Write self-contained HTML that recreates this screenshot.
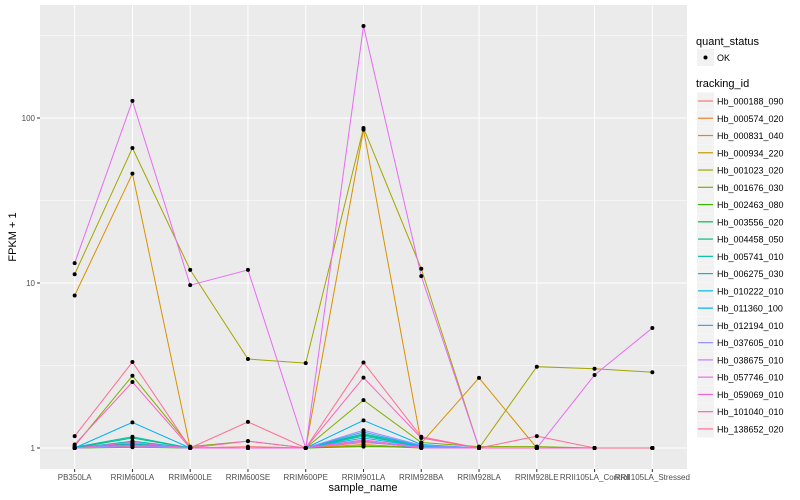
<!DOCTYPE html>
<html><head><meta charset="utf-8"><style>
body{margin:0;background:#fff;}
svg{display:block;font-family:"Liberation Sans",sans-serif;}
</style></head><body>
<svg id="chart" width="800" height="500">
<rect x="40" y="5" width="647" height="464" fill="#EBEBEB"/>
<g id="grid"></g><g id="series"></g><g id="axes"></g><g id="legend"></g>
</svg>
<script>
const categories=["PB350LA","RRIM600LA","RRIM600LE","RRIM600SE","RRIM600PE","RRIM901LA","RRIM928BA","RRIM928LA","RRIM928LE","RRII105LA_Control","RRII105LA_Stressed"];
const trackingIds=["Hb_000188_090","Hb_000574_020","Hb_000831_040","Hb_000934_220","Hb_001023_020","Hb_001676_030","Hb_002463_080","Hb_003556_020","Hb_004458_050","Hb_005741_010","Hb_006275_030","Hb_010222_010","Hb_011360_100","Hb_012194_010","Hb_037605_010","Hb_038675_010","Hb_057746_010","Hb_059069_010","Hb_101040_010","Hb_138652_020"];
const s01=[1,1.05,1,1.02,1,1.08,1.02,1,1,1,1];
const s02=[1,1.03,1,1,1,1.05,1,1,1,1,1];
const s03=[8.4,46,1,1,1,85,1.07,2.66,1,1,1];
const s04=[1,1.02,1,1,1,1.03,1,1,1,1,1];
const s05=[11.3,65.8,12,3.46,3.27,87,12.2,1,3.11,3.02,2.88];
const s06=[1.03,2.74,1.02,1.1,1,1.95,1.08,1.02,1.02,1,1];
const s07=[1,1.01,1,1,1,1.02,1.01,1,1,1,1];
const s08=[1,1.06,1,1,1,1.1,1,1,1,1,1];
const s09=[1,1.15,1,1,1,1.2,1.02,1,1,1,1];
const s10=[1.01,1.17,1,1,1,1.22,1.03,1,1,1,1];
const s11=[1,1.1,1,1,1,1.18,1.02,1,1,1,1];
const s12=[1,1.08,1,1,1,1.15,1.02,1,1,1,1];
const s13=[1,1.43,1,1,1,1.47,1.05,1,1,1,1];
const s14=[1,1.05,1,1,1,1.25,1.03,1,1,1,1];
const s15=[1,1.04,1,1,1,1.28,1.04,1,1,1,1];
const s16=[1,1.02,1,1,1,1.1,1,1,1,1,1];
const s17=[13.2,127,9.7,12,1,361,11,1,1,2.77,5.34];
const s18=[1,1.08,1,1,1,1.12,1.01,1,1,1,1];
const s19=[1.05,2.51,1,1.1,1,2.67,1.15,1,1,1,1];
const s20=[1.18,3.32,1,1.44,1,3.3,1.17,1,1.18,1,1];
const seriesValues=[s01,s02,s03,s04,s05,s06,s07,s08,s09,s10,s11,s12,s13,s14,s15,s16,s17,s18,s19,s20];
const yTicks=[1,10,100];
const yTickLabels=["1","10","100"];
const yMinor=[3.1623,31.623,316.23];
const colors=["#F8766D","#EA8331","#D89000","#C09B00","#A3A500","#7CAE00","#39B600","#00BB4E","#00BF7D","#00C1A3","#00BFC4","#00BAE0","#00B0F6","#35A2FF","#9590FF","#C77CFF","#E76BF3","#FA62DB","#FF62BC","#FF6C91"];

const NS="http://www.w3.org/2000/svg";
const pLeft=40,pRight=687,pTop=5,pBottom=469;
const step=(pRight-pLeft)/(categories.length-1+1.2);
function xPos(i){return pLeft+0.6*step+i*step;}
function yPos(v){return 448-165*Math.log10(v);}
function mk(tag,attrs,parent){const e=document.createElementNS(NS,tag);for(const k in attrs)e.setAttribute(k,attrs[k]);parent.appendChild(e);return e;}
const grid=document.getElementById('grid'),ser=document.getElementById('series'),axes=document.getElementById('axes'),leg=document.getElementById('legend');

yMinor.forEach(v=>{const l=mk('line',{x1:pLeft,x2:pRight,y1:yPos(v),y2:yPos(v),stroke:'#fff','stroke-width':0.5},grid);

});
yTicks.forEach((v,i)=>{const y=yPos(v);
const l=mk('line',{x1:pLeft,x2:pRight,y1:y,y2:y,stroke:'#fff','stroke-width':1},grid);


const t=mk('line',{x1:37,x2:40,y1:y,y2:y,stroke:'#333','stroke-width':1},axes);


const tx=mk('text',{x:35,y:y+3,'text-anchor':'end','font-size':8,fill:'#4D4D4D'},axes);tx.textContent=yTickLabels[i];

});
categories.forEach((c,i)=>{const x=xPos(i);
const l=mk('line',{x1:x,x2:x,y1:pTop,y2:pBottom,stroke:'#fff','stroke-width':1},grid);


const t=mk('line',{x1:x,x2:x,y1:469,y2:472,stroke:'#333','stroke-width':1},axes);


const tx=mk('text',{x:x,y:480,'text-anchor':'middle','font-size':8,fill:'#4D4D4D'},axes);tx.textContent=c;

});

seriesValues.forEach((vals,si)=>{
const g=mk('g',{},ser);


const p=mk('polyline',{points:vals.map((v,i)=>xPos(i)+','+yPos(v)).join(' '),fill:'none',stroke:colors[si],'stroke-width':1},g);

});
seriesValues.forEach((vals,si)=>{vals.forEach((v,i)=>{
const c=mk('circle',{cx:xPos(i),cy:yPos(v),r:2,fill:'#000'},ser);

});});

const xt=mk('text',{x:363,y:491,'text-anchor':'middle','font-size':11,fill:'#000'},axes);xt.textContent='sample_name';


const yt=mk('text',{x:16,y:237,'text-anchor':'middle','font-size':11,fill:'#000',transform:'rotate(-90 16 237)'},axes);yt.textContent='FPKM + 1';



const qt=mk('text',{x:696,y:45,'font-size':11,fill:'#000'},leg);qt.textContent='quant_status';


const qk=mk('rect',{x:697,y:49,width:17,height:17,fill:'#F2F2F2'},leg);


const qd=mk('circle',{cx:705.5,cy:57.5,r:2,fill:'#000'},leg);


const ql=mk('text',{x:717,y:61,'font-size':9,fill:'#000'},leg);ql.textContent='OK';


const tt=mk('text',{x:696,y:87,'font-size':11,fill:'#000'},leg);tt.textContent='tracking_id';


trackingIds.forEach((id,i)=>{const y=92.5+i*17.26;
const r=mk('rect',{x:697,y:y,width:17,height:17,fill:'#F2F2F2'},leg);


const l=mk('line',{x1:698,x2:713,y1:y+8.5,y2:y+8.5,stroke:colors[i],'stroke-width':1.2},leg);


const t=mk('text',{x:717,y:y+12,'font-size':9,fill:'#000'},leg);t.textContent=id;

});
</script>
</body></html>
